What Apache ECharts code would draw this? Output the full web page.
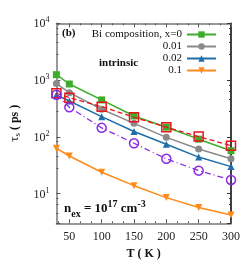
<!DOCTYPE html>
<html><head><meta charset="utf-8">
<script src="https://cdn.jsdelivr.net/npm/echarts@6/dist/echarts.min.js"></script>
<style>html,body{margin:0;padding:0;background:#fff}#c{width:245px;height:271px}</style>
</head><body><div id="c"></div>
<script>
const temps = [30, 50, 100, 150, 200, 250, 300];
const x0    = [1245, 853, 447, 233, 148, 91, 57];
const x001  = [867, 600, 306, 173, 98, 61, 41];
const x002  = [545, 428, 227, 124, 74, 44, 29.9];
const x01   = [63, 46, 23.8, 13.8, 8.5, 5.7, 4.2];
const redDashed    = [586, 490, 340, 221, 148, 101, 70];
const purpleDashDot = [553, 331, 144, 77, 41, 25.4, 17.4];
const legendNames = ['Bi composition, x=0', '0.01', '0.02', '0.1'];
const xMajorTicks = [50, 100, 150, 200, 250, 300];
const xMinorTicks = [100/3, 200/3, 250/3, 350/3, 400/3, 500/3, 550/3, 650/3, 700/3, 800/3, 850/3];

const F = 'Liberation Serif';
const pts = arr => temps.map((t, i) => [t, arr[i]]);

function solid(name, data, color, symbol, size, rot) {
  return { name, type: 'line', data: pts(data), symbol, symbolSize: size, symbolRotate: rot || 0,
    lineStyle: { color, width: 1.5 }, itemStyle: { color }, z: 3 };
}
function open(name, data, color, symbol, size, dash) {
  return { name, type: 'line', data: pts(data), symbol, symbolSize: size,
    lineStyle: { color, width: 1.3, type: dash },
    itemStyle: { color: 'rgba(0,0,0,0)', borderColor: color, borderWidth: 1.5 }, z: 4 };
}
function xAx(pos, ticks, len, labels, lineColor) {
  return { type: 'value', min: 30, max: 300, position: pos,
    axisLine: { show: !!lineColor, lineStyle: { color: lineColor || '#777', width: 1.5 } },
    axisTick: { inside: true, length: len, customValues: ticks, lineStyle: { color: '#555' } },
    splitLine: { show: false },
    axisLabel: labels ? { fontFamily: F, fontSize: 12, color: '#222', margin: 8, customValues: xMajorTicks } : { show: false } };
}

const chart = echarts.init(document.getElementById('c'));
chart.setOption({
  animation: false,
  grid: { left: 55.5, right: 14, top: 23.3, bottom: 47.7 },
  xAxis: [
    Object.assign(xAx('bottom', xMajorTicks, 4, true, '#777'), {
      name: 'T ( K )', nameLocation: 'middle', nameGap: 24,
      nameTextStyle: { fontFamily: F, fontSize: 12, fontWeight: 'bold', color: '#111' } }),
    xAx('top', xMajorTicks, 4, false, '#777'),
    xAx('bottom', xMinorTicks, 2, false, null),
    xAx('top', xMinorTicks, 2, false, null)
  ],
  yAxis: [
    { type: 'log', min: 3, max: 10000, logBase: 10, position: 'left',
      axisLine: { lineStyle: { color: '#777', width: 1.5 } },
      axisTick: { inside: true, length: 4, lineStyle: { color: '#555' } },
      minorTick: { show: true, splitNumber: 5, length: 2, lineStyle: { color: '#555' } },
      splitLine: { show: false },
      axisLabel: { margin: 7, color: '#222',
        formatter: v => { const l = Math.log10(v), e = Math.round(l);
          return Math.abs(l - e) > 1e-6 ? '' : '{b|10}{s|' + e + '}'; },
        rich: { b: { fontFamily: F, fontSize: 12, color: '#222', verticalAlign: 'bottom', lineHeight: 14 },
                s: { fontFamily: F, fontSize: 8, color: '#222', verticalAlign: 'top', lineHeight: 14 } } },
      name: '{a|τ}{sub|s}{b| ( ps )}', nameLocation: 'middle', nameGap: 23,
      nameTextStyle: { rich: {
        a: { fontFamily: F, fontSize: 13, color: '#111', verticalAlign: 'middle', lineHeight: 16 },
        sub: { fontFamily: F, fontSize: 9, color: '#111', verticalAlign: 'bottom', lineHeight: 16 },
        b: { fontFamily: F, fontSize: 12, fontWeight: 'bold', color: '#111', verticalAlign: 'middle', lineHeight: 16 } } } },
    { type: 'log', min: 3, max: 10000, logBase: 10, position: 'right',
      axisLine: { lineStyle: { color: '#000', width: 1.5 } },
      axisTick: { inside: true, length: 4, lineStyle: { color: '#333' } },
      minorTick: { show: true, splitNumber: 5, length: 2, lineStyle: { color: '#333' } },
      splitLine: { show: false }, axisLabel: { show: false } }
  ],
  legend: {
    data: legendNames, orient: 'vertical', right: 23, top: 24, align: 'right',
    itemWidth: 29, itemHeight: 8, itemGap: 1,
    textStyle: { fontFamily: F, fontSize: 11, color: '#111', width: 120, align: 'right', lineHeight: 11, padding: [0, 0, 0, 0] }
  },
  series: [
    open('red', redDashed, '#e8141b', 'rect', 9, [5, 3]),
    open('purple', purpleDashDot, '#8a2be2', 'circle', 9, [6, 3, 1, 3]),
    solid(legendNames[0], x0, '#3dae2b', 'rect', 7),
    solid(legendNames[1], x001, '#8a8a8a', 'circle', 7),
    solid(legendNames[2], x002, '#1f6ea8', 'triangle', 7),
    solid(legendNames[3], x01, '#ff8a1c', 'triangle', 7, 180)
  ],
  graphic: [
    { type: 'text', left: 62, top: 28, style: { text: '(b)', fontFamily: F, fontSize: 11, fontWeight: 'bold', fill: '#111' } },
    { type: 'text', left: 99, top: 58, style: { text: 'intrinsic', fontFamily: F, fontSize: 11, fontWeight: 'bold', fill: '#111' } },
    { type: 'text', left: 64, top: 199, style: {
        text: '{a|n}{sub|ex}{a| = 10}{sup|17}{a| cm}{sup|-3}',
        rich: { a: { fontFamily: F, fontSize: 13, fontWeight: 'bold', fill: '#111', verticalAlign: 'middle', lineHeight: 20 },
                sub: { fontFamily: F, fontSize: 10, fontWeight: 'bold', fill: '#111', verticalAlign: 'bottom', lineHeight: 20 },
                sup: { fontFamily: F, fontSize: 10, fontWeight: 'bold', fill: '#111', verticalAlign: 'top', lineHeight: 20 } } } }
  ]
});
</script></body></html>
